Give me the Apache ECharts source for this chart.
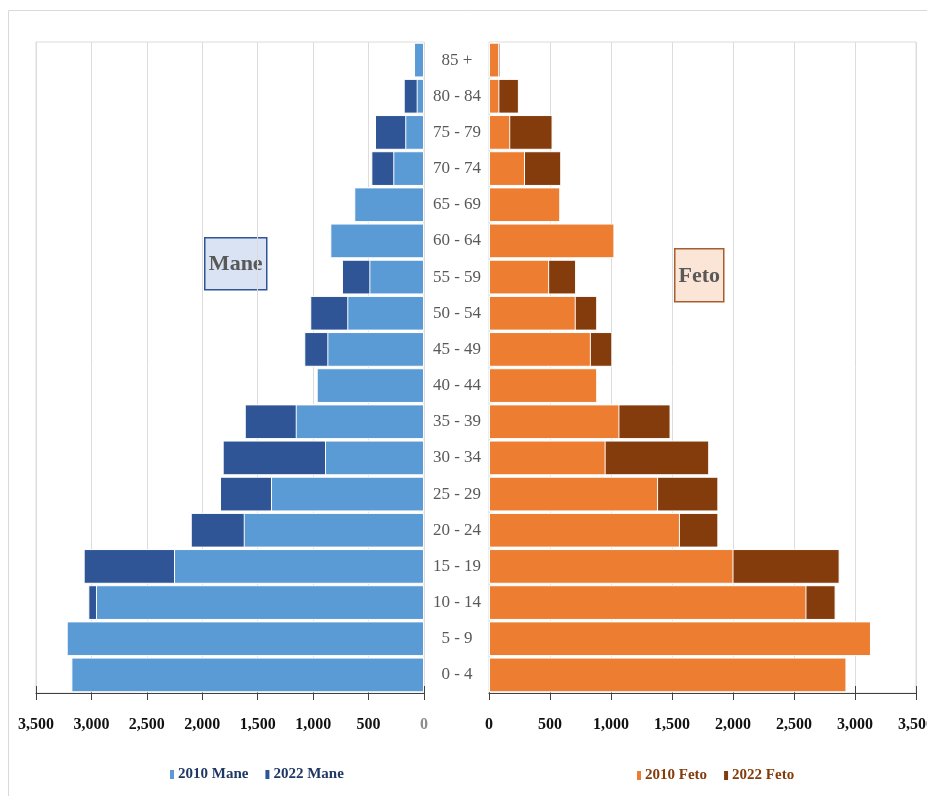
<!DOCTYPE html>
<html>
<head>
<meta charset="utf-8">
<script src="https://cdn.jsdelivr.net/npm/echarts@6/dist/echarts.min.js"></script>
<style>html,body{margin:0;padding:0;background:#fff;overflow:hidden}#c{width:927px;height:796px}</style>
</head>
<body>
<div id="c"></div>
<script>
const ageGroups = ['0 - 4','5 - 9','10 - 14','15 - 19','20 - 24','25 - 29','30 - 34','35 - 39','40 - 44','45 - 49','50 - 54','55 - 59','60 - 64','65 - 69','70 - 74','75 - 79','80 - 84','85 +'];
const mane2010 = [3181,3223,2959,2255,1626,1380,893,1157,968,872,692,493,845,629,277,169,66,90];
const mane2022 = [2600,3000,3028,3070,2104,1840,1816,1617,900,1080,1026,740,690,600,475,442,183,75];
const feto2010 = [2930,3131,2602,2004,1565,1386,956,1069,887,835,711,493,1028,584,295,174,85,83];
const feto2022 = [2500,2800,2841,2874,1880,1880,1805,1488,850,1011,887,714,700,560,592,521,245,94];
const valueTicks = {min:0, max:3500, interval:500};
const serif = "Liberation Serif";

function fmt(v){ return String(v).replace(/\B(?=(\d{3})+(?!\d))/g, ','); }

const chart = echarts.init(document.getElementById('c'), null, {renderer:'canvas'});

function mainX(grid, inverse, grayZero){
  return {
    type:'value', gridIndex:grid, inverse:inverse, min:valueTicks.min, max:valueTicks.max, interval:valueTicks.interval,
    position:'bottom',
    axisLine:{show:true, lineStyle:{color:'#404040', width:1.2}},
    axisTick:{show:true, length:7, lineStyle:{color:'#404040'}},
    splitLine:{show:true, lineStyle:{color:'#dcdcdc', width:1}},
    axisLabel:{
      margin:24,
      fontFamily:serif, fontWeight:'bold', fontSize:16,
      color:function(v){ return (grayZero && Number(v)===0) ? '#8c8c8c' : '#111111'; },
      formatter:function(v){ return fmt(v); }
    }
  };
}
function tickX(grid, inverse){
  return {
    type:'value', gridIndex:grid, inverse:inverse, min:valueTicks.min, max:valueTicks.max, interval:valueTicks.interval,
    position:'bottom',
    axisLine:{show:false}, splitLine:{show:false}, axisLabel:{show:false},
    axisTick:{show:true, inside:true, length:7, lineStyle:{color:'#404040'}}
  };
}

const barCommon = {type:'bar', barGap:'-100%', barCategoryGap:'4%'};

chart.setOption({
  animation:false,
  backgroundColor:'#fff',
  grid:[
    {left:36, right:503, top:42, bottom:103, outerBoundsMode:'none', containLabel:false, show:true, borderColor:'#dcdcdc', borderWidth:1, backgroundColor:'transparent'},
    {left:489, right:11, top:42, bottom:103, outerBoundsMode:'none', containLabel:false, show:true, borderColor:'#dcdcdc', borderWidth:1, backgroundColor:'transparent'}
  ],
  xAxis:[ mainX(0,true,true), mainX(1,false,false), tickX(0,true), tickX(1,false) ],
  yAxis:[
    {type:'category', gridIndex:0, data:ageGroups, position:'right',
     axisLine:{show:false}, axisTick:{show:false}, axisLabel:{show:false}},
    {type:'category', gridIndex:1, data:ageGroups, position:'left',
     axisLine:{show:false}, axisTick:{show:false},
     axisLabel:{margin:32, align:'center', fontFamily:serif, fontSize:17, color:'#595959'}}
  ],
  legend:[
    {data:['2010 Mane','2022 Mane'], left:163, top:762, icon:'rect', itemWidth:6, itemHeight:11, itemGap:15,
     textStyle:{fontFamily:serif, fontWeight:'bold', fontSize:15, color:'#1F3864', padding:[0,0,0,-2]}},
    {data:['2010 Feto','2022 Feto'], left:630, top:763, icon:'rect', itemWidth:6, itemHeight:11, itemGap:15,
     textStyle:{fontFamily:serif, fontWeight:'bold', fontSize:15, color:'#843C0C', padding:[0,0,0,-2]}}
  ],
  series:[
    Object.assign({}, barCommon, {name:'2022 Mane', xAxisIndex:0, yAxisIndex:0, data:mane2022, itemStyle:{color:'#2F5597', borderColor:'#fff', borderWidth:1}}),
    Object.assign({}, barCommon, {name:'2010 Mane', xAxisIndex:0, yAxisIndex:0, data:mane2010, itemStyle:{color:'#5B9BD5', borderColor:'#fff', borderWidth:1}}),
    Object.assign({}, barCommon, {name:'2022 Feto', xAxisIndex:1, yAxisIndex:1, data:feto2022, itemStyle:{color:'#843C0C', borderColor:'#fff', borderWidth:1}}),
    Object.assign({}, barCommon, {name:'2010 Feto', xAxisIndex:1, yAxisIndex:1, data:feto2010, itemStyle:{color:'#ED7D31', borderColor:'#fff', borderWidth:1}})
  ],
  graphic:[
    {type:'polyline', z:-1, silent:true, shape:{points:[[8.5,800],[8.5,10.5],[927,10.5]]}, style:{fill:'none', stroke:'#d9d9d9', lineWidth:1}},
    {type:'group', left:204, top:237, z:100, children:[
      {type:'rect', shape:{x:0, y:0, width:62, height:52}, style:{fill:'#DAE3F3', stroke:'#2F5597', lineWidth:1.5}},
      {type:'text', x:31, y:27, style:{text:'Mane', fontFamily:serif, fontWeight:'bold', fontSize:22, fill:'#595959', align:'center', verticalAlign:'middle'}}
    ]},
    {type:'group', left:674, top:248, z:100, children:[
      {type:'rect', shape:{x:0, y:0, width:49, height:53}, style:{fill:'#FBE5D6', stroke:'#A65E2E', lineWidth:1.5}},
      {type:'text', x:24.5, y:28, style:{text:'Feto', fontFamily:serif, fontWeight:'bold', fontSize:22, fill:'#595959', align:'center', verticalAlign:'middle'}}
    ]}
  ]
});
</script>
</body>
</html>
